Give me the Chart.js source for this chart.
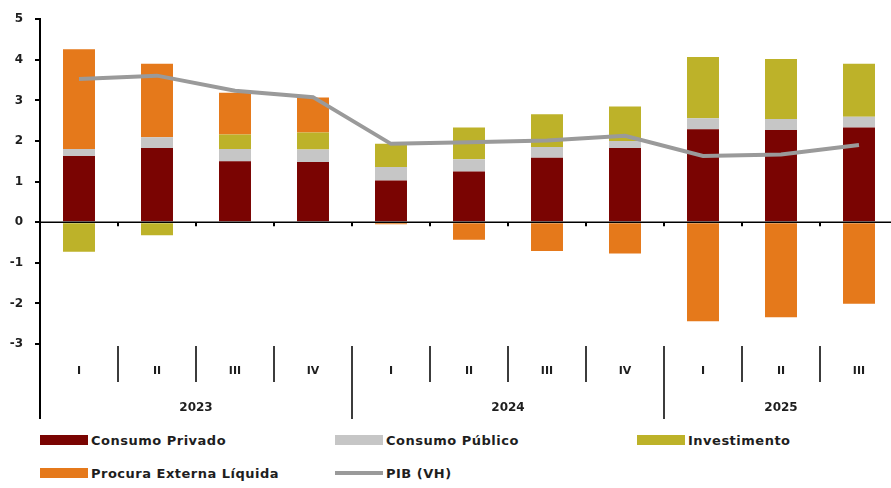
<!DOCTYPE html>
<html>
<head>
<meta charset="utf-8">
<script src="https://cdn.jsdelivr.net/npm/chart.js@4.4.1/dist/chart.umd.min.js"></script>
<style>
  html, body { margin: 0; padding: 0; background: #fff; overflow: hidden; }
  #wrap { position: relative; width: 891px; height: 488px; overflow: hidden; }
  #chart { position: absolute; left: 0; top: 0; }
  .leg-item { position: absolute; display: flex; align-items: center; height: 16px;
    font: bold 13px "DejaVu Sans", sans-serif; letter-spacing: 0.5px; color: #1e1e1e; white-space: nowrap; }
  .leg-swatch { width: 48px; margin-right: 3px; }
</style>
</head>
<body>
<div id="wrap">
  <canvas id="chart" width="898" height="425"></canvas>
  <div id="legend"></div>
</div>
<script>
const quarters = ['I', 'II', 'III', 'IV', 'I', 'II', 'III', 'IV', 'I', 'II', 'III'];
const years = ['2023', '2024', '2025'];
const quartersPerYear = [4, 4, 3];

const consumoPrivado = [1.63, 1.83, 1.50, 1.48, 1.03, 1.25, 1.59, 1.83, 2.29, 2.27, 2.33];
const consumoPublico = [0.17, 0.26, 0.30, 0.31, 0.33, 0.30, 0.26, 0.17, 0.27, 0.27, 0.27];
const investimento = [-0.73, -0.32, 0.36, 0.42, 0.57, 0.78, 0.81, 0.85, 1.51, 1.48, 1.30];
const procuraExterna = [2.46, 1.81, 1.03, 0.86, -0.05, -0.43, -0.71, -0.77, -2.44, -2.34, -2.01];
const pib = [3.53, 3.61, 3.24, 3.08, 1.93, 1.97, 2.01, 2.13, 1.63, 1.67, 1.90];

const yTicks = [-3, -2, -1, 0, 1, 2, 3, 4, 5];

const textColor = '#1e1e1e';

// draws zero line, category ticks, the two-level category labels and separators
const axisDecor = {
  id: 'axisDecor',
  afterDatasetsDraw(chart) {
    const ctx = chart.ctx;
    const x = chart.scales.x;
    const y = chart.scales.y;
    const y0 = y.getPixelForValue(0);
    const left = chart.chartArea.left;
    const bottom = chart.chartArea.bottom;
    const n = quarters.length;
    const boundary = i => i === 0 ? left : (x.getPixelForValue(i - 1) + x.getPixelForValue(i)) / 2;

    ctx.save();
    ctx.strokeStyle = '#000';
    ctx.lineWidth = 1.5;
    ctx.beginPath();
    ctx.moveTo(left, y0);
    ctx.lineTo(chart.width, y0);
    ctx.stroke();

    ctx.lineWidth = 2;
    for (let i = 1; i < n; i++) {
      const bx = Math.round(boundary(i));
      ctx.beginPath();
      ctx.moveTo(bx, y0);
      ctx.lineTo(bx, y0 + 4);
      ctx.stroke();
    }

    // y axis continues down through the labels
    ctx.beginPath();
    ctx.moveTo(left, bottom);
    ctx.lineTo(left, bottom + 75);
    ctx.stroke();

    // quarter separators, longer at year boundaries
    const yearStarts = [];
    let acc = 0;
    quartersPerYear.forEach(q => { yearStarts.push(acc); acc += q; });
    ctx.strokeStyle = '#3c3c3c';
    for (let i = 1; i < n; i++) {
      const bx = Math.round(boundary(i));
      const isYear = yearStarts.includes(i);
      ctx.beginPath();
      ctx.moveTo(bx, bottom + 2);
      ctx.lineTo(bx, isYear ? bottom + 75 : bottom + 38);
      ctx.stroke();
    }

    ctx.fillStyle = textColor;
    ctx.textAlign = 'center';
    ctx.textBaseline = 'middle';
    ctx.font = 'bold 11px "DejaVu Sans", sans-serif';
    quarters.forEach((q, i) => {
      ctx.fillText(q, x.getPixelForValue(i), bottom + 27);
    });

    ctx.font = 'bold 12px "DejaVu Sans", sans-serif';
    years.forEach((yr, k) => {
      const start = yearStarts[k];
      const end = start + quartersPerYear[k];
      const cx = (boundary(start) + (end < n ? boundary(end) : x.getPixelForValue(n - 1) + (x.getPixelForValue(n - 1) - boundary(n - 1)))) / 2;
      ctx.fillText(yr, cx, bottom + 64);
    });
    ctx.restore();
  }
};

const chart = new Chart(document.getElementById('chart'), {
  type: 'bar',
  data: {
    labels: quarters,
    datasets: [
      { label: 'Consumo Privado', data: consumoPrivado, backgroundColor: '#7a0402', stack: 'bars', order: 1 },
      { label: 'Consumo Público', data: consumoPublico, backgroundColor: '#c6c6c6', stack: 'bars', order: 1 },
      { label: 'Investimento', data: investimento, backgroundColor: '#bdb229', stack: 'bars', order: 1 },
      { label: 'Procura Externa Líquida', data: procuraExterna, backgroundColor: '#e5791b', stack: 'bars', order: 1 },
      {
        label: 'PIB (VH)', data: pib, type: 'line', stack: 'line', order: 0,
        borderColor: '#9a9a9a', backgroundColor: '#9a9a9a', borderWidth: 4,
        pointRadius: 0, tension: 0, fill: false
      }
    ]
  },
  options: {
    responsive: false,
    animation: false,
    devicePixelRatio: 1,
    layout: { padding: { top: 12, right: 0, bottom: 81, left: 0 } },
    datasets: {
      bar: { categoryPercentage: 1, barPercentage: 0.41 }
    },
    plugins: {
      legend: { display: false },
      tooltip: { enabled: false }
    },
    scales: {
      x: { display: false, stacked: true },
      y: {
        stacked: true,
        min: -3,
        max: 5,
        afterBuildTicks: scale => { scale.ticks = yTicks.map(v => ({ value: v })); },
        afterFit: scale => { scale.width = 40; },
        border: { display: true, color: '#000', width: 2 },
        grid: { drawOnChartArea: false, drawTicks: true, tickLength: 5, tickColor: '#000', lineWidth: 2 },
        ticks: {
          padding: 12,
          color: textColor,
          font: { family: 'DejaVu Sans', size: 12, weight: 'bold' }
        }
      }
    }
  },
  plugins: [axisDecor]
});

function renderLegend(chart) {
  const legend = document.getElementById('legend');
  const cols = [40, 335, 637];
  chart.data.datasets.forEach((ds, i) => {
    const item = document.createElement('div');
    item.className = 'leg-item';
    item.style.left = cols[i % 3] + 'px';
    item.style.top = (432 + Math.floor(i / 3) * 33) + 'px';
    const sw = document.createElement('span');
    sw.className = 'leg-swatch';
    if (ds.type === 'line') {
      sw.style.height = '4px';
      sw.style.background = ds.borderColor;
    } else {
      sw.style.height = '10px';
      sw.style.background = ds.backgroundColor;
    }
    const txt = document.createElement('span');
    txt.textContent = ds.label;
    item.appendChild(sw);
    item.appendChild(txt);
    legend.appendChild(item);
  });
}

renderLegend(chart);
</script>
</body>
</html>
